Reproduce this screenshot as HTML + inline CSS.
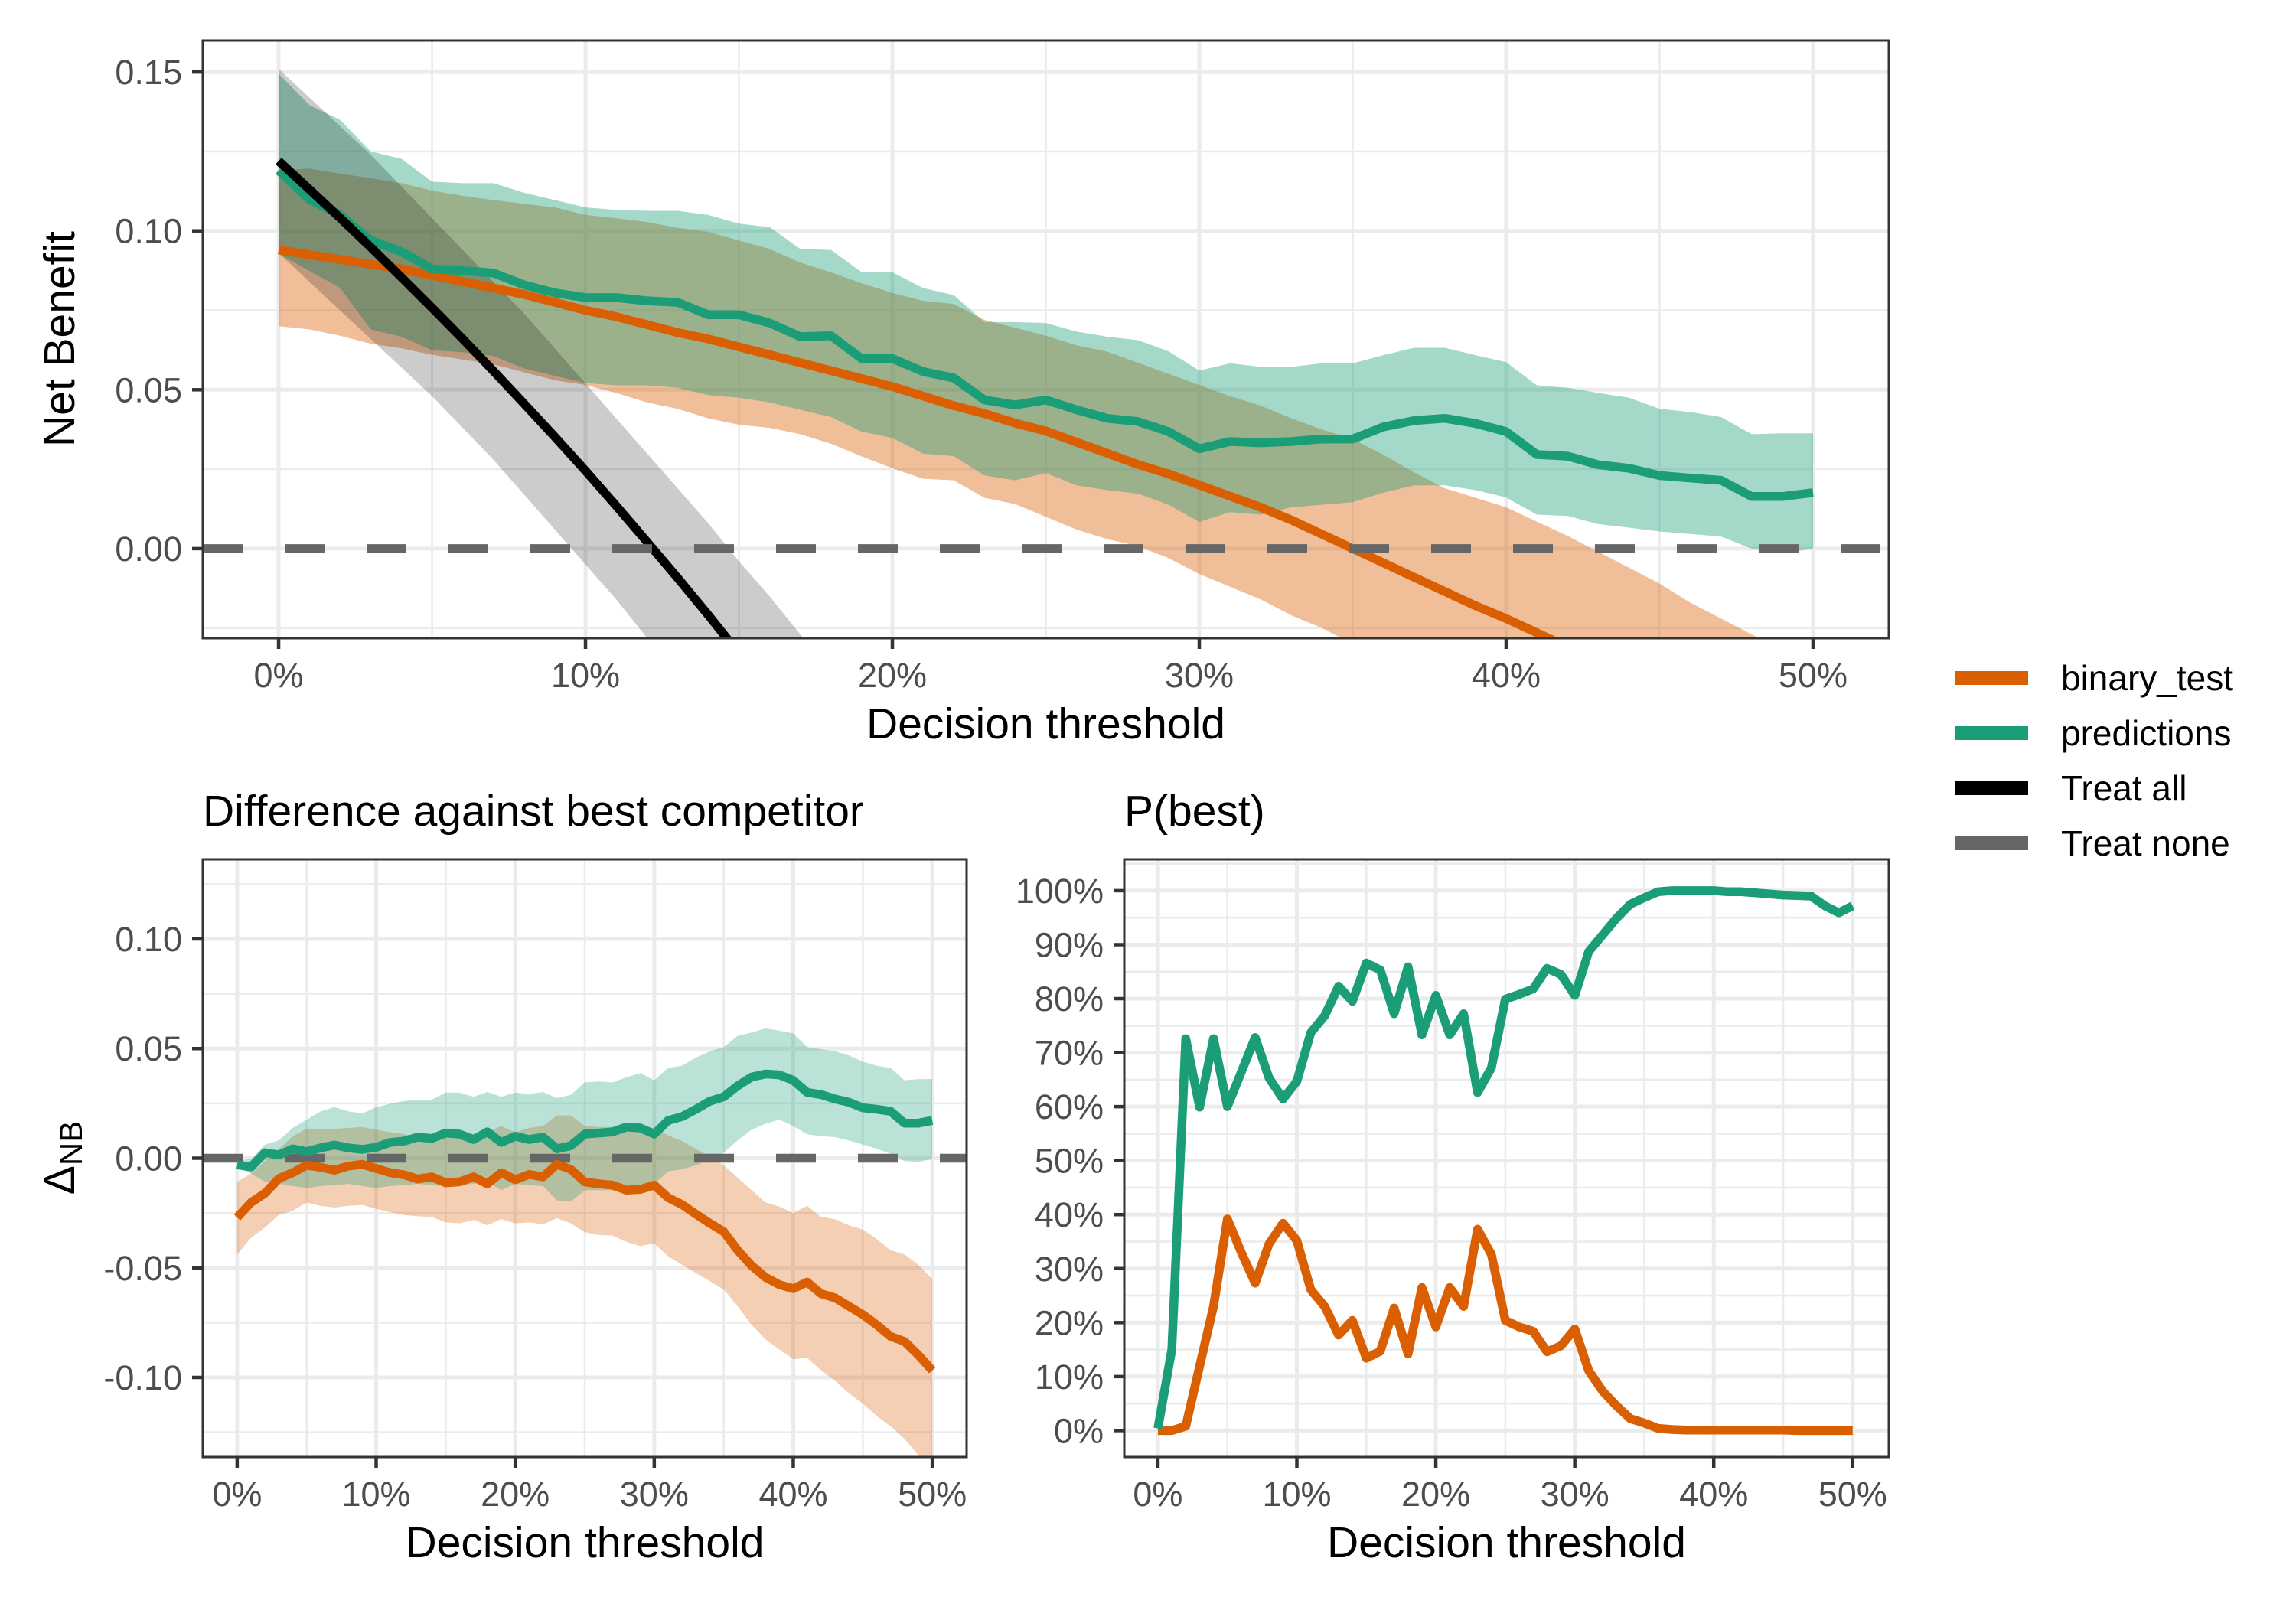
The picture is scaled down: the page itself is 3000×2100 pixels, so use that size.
<!DOCTYPE html>
<html><head><meta charset="utf-8"><style>
html,body{margin:0;padding:0;background:#fff;}
svg{display:block;font-family:"Liberation Sans",Arial,sans-serif;}
</style></head><body>
<svg id="chart" width="3000" height="2100" viewBox="0 0 3000 2100" xmlns="http://www.w3.org/2000/svg">
<defs>
<clipPath id="clipTop"><rect x="265" y="53" width="2203" height="781"/></clipPath>
<clipPath id="clipBL"><rect x="265" y="1123" width="998" height="781"/></clipPath>
<clipPath id="clipBR"><rect x="1469" y="1123" width="999" height="781"/></clipPath>
</defs>
<g id="layer"></g>
</svg>
<script>
// thresholds in percent
const thresholds = [0,1,2,3,4,5,6,7,8,9,10,11,12,13,14,15,16,17,18,19,20,21,22,23,24,25,26,27,28,29,30,31,32,33,34,35,36,37,38,39,40,41,42,43,44,45,46,47,48,49,50];
// Top panel: net benefit
const nbBinary = [.094,.0925,.091,.0895,.088,.086,.084,.082,.080,.0775,.075,.073,.0705,.068,.066,.0635,.061,.0585,.056,.0535,.051,.048,.045,.0425,.0395,.037,.0335,.030,.0265,.0235,.020,.0165,.013,.009,.0045,.000,-.0045,-.009,-.0135,-.018,-.022,-.0265,-.031,-.0355,-.04,-.0445,-.049,-.0535,-.058,-.0625,-.067];
const nbBinaryLo = [.070,.069,.067,.0645,.063,.061,.0595,.058,.0555,.053,.0515,.049,.046,.044,.041,.039,.038,.036,.033,.029,.0253,.022,.0215,.016,.014,.010,.006,.003,.0008,-.003,-.008,-.012,-.016,-.021,-.025,-.030,-.034,-.038,-.042,-.046,-.05,-.054,-.058,-.062,-.066,-.07,-.074,-.078,-.082,-.086,-.09];
const nbBinaryHi = [.119,.1196,.118,.1166,.115,.1127,.111,.1097,.1085,.1074,.105,.104,.1028,.101,.0997,.097,.0943,.090,.087,.0835,.0805,.078,.077,.072,.0695,.067,.064,.062,.0585,.055,.0515,.048,.045,.041,.0375,.0345,.0295,.024,.019,.016,.013,.0085,.004,-.001,-.006,-.011,-.017,-.022,-.027,-.032,-.038];
const nbPred = [.119,.110,.105,.097,.0935,.088,.0875,.0867,.083,.0805,.079,.079,.078,.0775,.0736,.0736,.071,.0667,.067,.0598,.0598,.0557,.0537,.0468,.0452,.0468,.0437,.041,.040,.0368,.0314,.0337,.0333,.0337,.0345,.0345,.0383,.0403,.041,.0394,.0368,.0296,.0291,.0264,.0253,.023,.0222,.0215,.0164,.0164,.0176];
const nbPredLo = [.0928,.0874,.0821,.069,.0667,.0624,.0618,.0606,.0567,.0544,.0521,.0514,.0514,.0506,.0483,.0475,.046,.0437,.0414,.0368,.0348,.0299,.0291,.023,.0215,.0238,.0199,.0184,.0173,.0138,.0084,.0115,.0107,.013,.0138,.0146,.0176,.0199,.0199,.0184,.0161,.0107,.0103,.0077,.0066,.0054,.0046,.0038,0,-.0015,0];
const nbPredHi = [.1495,.1396,.135,.125,.1227,.1155,.115,.115,.112,.1097,.1074,.1066,.1063,.1063,.105,.1023,.1012,.0943,.094,.087,.087,.082,.0798,.0713,.0713,.071,.0683,.0667,.0656,.0621,.056,.0583,.0572,.0572,.0583,.0583,.0609,.0632,.0632,.0609,.0587,.0514,.0506,.049,.0475,.044,.043,.0414,.036,.0363,.0363];
const allThresholds = [0,1,2,3,4,5,6,7,8,9,10,11,12,13,14,15,16,17,18];
const nbTreatAll = [.122,.1131,.1041,.0949,.0854,.0758,.066,.0559,.0456,.0352,.0245,.0135,.0022,-.0092,-.0209,-.033,-.0455,-.0588,-.0724];
const nbTreatAllLo = [.093,.084,.075,.066,.057,.048,.038,.028,.017,.006,-.005,-.016,-.028,-.040,-.052,-.064,-.076,-.088,-.1];
const nbTreatAllHi = [.151,.142,.133,.124,.114,.104,.094,.084,.074,.063,.052,.041,.030,.019,.008,-.004,-.015,-.027,-.039];
// Bottom-left: difference vs best competitor (units of 0.001)
const dBinaryMilli = [-27,-20.2,-16,-9.3,-6.6,-3.2,-4.2,-5.5,-3.6,-2.8,-4.7,-6.6,-7.6,-9.5,-8.5,-11.2,-10.8,-8.5,-11.7,-6.6,-9.8,-7.4,-8.5,-2.8,-5.1,-10.8,-11.7,-12.3,-14.6,-14.2,-12.3,-18,-21.2,-25.5,-29.7,-33.5,-42,-49,-54.3,-57.7,-59.5,-56.5,-61.8,-63.7,-67.5,-71.3,-76,-81.3,-83.6,-89.8,-96.8];
const dBinaryLoMilli = [-43.9,-36.3,-31.6,-25.9,-24,-20.2,-21.7,-22.5,-21.7,-21.4,-23.1,-24.6,-25.9,-26.5,-26.8,-29.3,-29.7,-28.2,-30.6,-27.8,-29.7,-29.3,-30.1,-27.4,-29.7,-33.8,-35,-35.3,-38.2,-40.1,-38.8,-44.8,-48.6,-52.4,-56.1,-59.9,-67.5,-76,-82.6,-87.3,-91.7,-91.1,-96.8,-101.5,-107.2,-111.9,-117.6,-122.3,-128,-135.5,-145];
const dBinaryHiMilli = [-10.8,-7,-1.3,4.3,10,13.4,13.4,13.4,13.8,14.2,12.9,11.9,11,10,9.6,10.4,11.9,11,11.9,14.7,11.9,13.8,14.7,19.5,19.5,14.7,14.2,14.2,14.2,13.8,13.8,10.4,7.8,4.3,0.6,-3.2,-8.9,-14.6,-20.2,-22.1,-25,-21.7,-26.8,-27.8,-30.6,-32.5,-36.9,-42,-43.9,-48.6,-55.2];
const dPredMilli = [-3,-4,2.5,1.5,4.3,3,4.7,6,4.7,4,5,7.2,7.8,9.6,9,11.5,11,8.5,12,7.2,10,8.5,9.6,4.3,5.7,11,11.5,12,14.2,13.8,11,17.2,19,22.3,26,28,33,37,38.4,38,35.5,30,29,27,25.5,23,22.3,21.4,16,16,17.2];
const dPredLoMilli = [-4.2,-7,-10.8,-11.7,-12.7,-13.6,-12.7,-12.3,-11.7,-12.7,-13.6,-12.7,-12.3,-11.7,-12.3,-12.7,-12.3,-11.7,-10.8,-14.6,-11.7,-12.3,-12.7,-19.3,-19.8,-14.6,-14.6,-14.6,-14.6,-13.6,-11.7,-6,-5.1,-3.2,-0.4,2.5,8.1,12.9,15.7,17.6,14.7,10.9,10,9.6,8.1,6.2,4.3,2.1,-1.3,-1.7,-0.4];
const dPredHiMilli = [-1.3,-0.4,6.2,8.1,13.8,17.6,21.4,23.3,21.4,20.4,23.3,24.8,26.1,26.7,26.7,29.9,29.9,28,30.2,28,29.9,29.3,30.2,27.4,28.9,34.6,35,34.6,36.9,38.8,35.5,41.2,42.2,45.9,48.8,50.7,55.8,57.3,59.2,58.2,56.9,50.7,49.7,48.8,46.9,44,42.2,41.2,35.5,36.1,36.1];
// Bottom-right: P(best) in percent
const pBestPred = [0.4,15,72.6,59.9,72.6,60,66.4,72.8,65.3,61.4,64.7,73.7,76.8,82.3,79.5,86.6,85.3,77.2,85.9,73.3,80.6,73.3,77.2,62.6,67.2,79.9,80.8,81.8,85.6,84.5,80.6,88.7,91.8,94.9,97.5,98.7,99.8,100,100,100,100,99.8,99.8,99.6,99.4,99.2,99.1,99,97.2,95.9,97.2];
const pBestBinary = [0,0,0.8,11.9,23,39.2,33,27.3,34.6,38.4,35.2,26.1,23,17.7,20.4,13.4,14.7,22.7,14.2,26.5,19.2,26.5,23,37.3,32.6,20.4,19.2,18.4,14.6,15.7,18.8,11.1,7.3,4.6,2.2,1.4,0.4,0.2,0.1,0.1,0.1,0.1,0.1,0.1,0.1,0.1,0,0,0,0,0];
const xTickLabels = ["0%","10%","20%","30%","40%","50%"];
const nbTickLabels = ["0.00","0.05","0.10","0.15"];
const dTickLabels = ["-0.10","-0.05","0.00","0.05","0.10"];
const pTickLabels = ["0%","10%","20%","30%","40%","50%","60%","70%","80%","90%","100%"];

const NS = "http://www.w3.org/2000/svg";
const layer = document.getElementById('layer');
function mk(tag, attrs, parent){ const e=document.createElementNS(NS,tag); for(const k in attrs) e.setAttribute(k,attrs[k]); (parent||layer).appendChild(e); return e; }
const ORANGE="#D95F02", GREEN="#1B9E77";

function panel(p){
  const g = mk('g',{});
  
  
  const sx = v => p.x0 + (v - p.xmin)/(p.xmax-p.xmin)*(p.x1-p.x0);
  const sy = v => p.y1 - (v - p.ymin)/(p.ymax-p.ymin)*(p.y1-p.y0);
  // minor grid
  p.xMinor.forEach(v=>{ const l=mk('line',{x1:sx(v),x2:sx(v),y1:p.y0,y2:p.y1,stroke:"#EBEBEB","stroke-width":2.6},g);   });
  p.yMinor.forEach(v=>{ const l=mk('line',{x1:p.x0,x2:p.x1,y1:sy(v),y2:sy(v),stroke:"#EBEBEB","stroke-width":2.6},g);   });
  p.xMajor.forEach(v=>{ const l=mk('line',{x1:sx(v),x2:sx(v),y1:p.y0,y2:p.y1,stroke:"#EBEBEB","stroke-width":5},g);   });
  p.yMajor.forEach(v=>{ const l=mk('line',{x1:p.x0,x2:p.x1,y1:sy(v),y2:sy(v),stroke:"#EBEBEB","stroke-width":5},g);   });
  const plot = mk('g',{'clip-path':'url(#'+p.clip+')'},g);
  
  
  // axes ticks & labels
  p.xMajor.forEach((v,i)=>{
    const t=mk('line',{x1:sx(v),x2:sx(v),y1:p.y1,y2:p.y1+14,stroke:"#333","stroke-width":4.5},g);
     
    const tx=mk('text',{x:sx(v),y:p.y1+64,'text-anchor':'middle','font-size':45,fill:"#4D4D4D"},g);
    tx.textContent=p.xLabels[i];
     
  });
  p.yMajor.forEach((v,i)=>{
    const t=mk('line',{x1:p.x0-14,x2:p.x0,y1:sy(v),y2:sy(v),stroke:"#333","stroke-width":4.5},g);
     
    const tx=mk('text',{x:p.x0-27,y:sy(v)+16,'text-anchor':'end','font-size':45,fill:"#4D4D4D"},g);
    tx.textContent=p.yLabels[i];
     
  });
  const xt=mk('text',{x:(p.x0+p.x1)/2,y:p.y1+131,'text-anchor':'middle','font-size':57,fill:"#000"},g);
  xt.textContent="Decision threshold";
   
  return {g, plot, sx, sy, p};
}
function ribbon(P, xs, lo, hi, color, op, name, scale){
  scale = scale||1;
  let d='';
  xs.forEach((x,i)=>{ d += (i?'L':'M')+P.sx(x).toFixed(1)+','+P.sy(hi[i]*scale).toFixed(1); });
  for(let i=xs.length-1;i>=0;i--) d += 'L'+P.sx(xs[i]).toFixed(1)+','+P.sy(lo[i]*scale).toFixed(1);
  const e=mk('path',{d:d+'Z',fill:color,'fill-opacity':op,stroke:'none'},P.plot);
  
  
}
function line(P, xs, ys, color, name, scale, w){
  scale = scale||1;
  const pts = xs.map((x,i)=>P.sx(x).toFixed(1)+','+P.sy(ys[i]*scale).toFixed(1)).join(' ');
  const e=mk('polyline',{points:pts,fill:'none',stroke:color,'stroke-width':w||11.5,'stroke-linejoin':'round','stroke-linecap':'butt'},P.plot);
  
  
}
function zeroLine(P, name){
  const e=mk('line',{x1:P.p.x0,x2:P.p.x1,y1:P.sy(0),y2:P.sy(0),stroke:'#666','stroke-width':11.5,'stroke-dasharray':'52 55'},P.plot);
  
  
}
function border(P){
  const r=mk('rect',{x:P.p.x0,y:P.p.y0,width:P.p.x1-P.p.x0,height:P.p.y1-P.p.y0,fill:'none',stroke:'#333','stroke-width':3},P.g);
   
}

// ---- top panel
const T = panel({name:'net-benefit-panel',clip:'clipTop',x0:265,x1:2468,y0:53,y1:834,
  xmin:-2.47,xmax:52.47,ymin:-0.0282,ymax:0.1599,
  xMajor:[0,10,20,30,40,50],xMinor:[5,15,25,35,45],yMajor:[0,0.05,0.10,0.15],yMinor:[-0.025,0.025,0.075,0.125],
  xLabels:xTickLabels,yLabels:nbTickLabels});
ribbon(T, thresholds, nbBinaryLo, nbBinaryHi, ORANGE, 0.4, 'binary-test-ci-ribbon');
ribbon(T, thresholds, nbPredLo, nbPredHi, GREEN, 0.4, 'predictions-ci-ribbon');
ribbon(T, allThresholds, nbTreatAllLo, nbTreatAllHi, '#000', 0.2, 'treat-all-ci-ribbon');
line(T, thresholds, nbBinary, ORANGE, 'binary-test-line');
line(T, thresholds, nbPred, GREEN, 'predictions-line');
line(T, allThresholds, nbTreatAll, '#000', 'treat-all-line');
zeroLine(T, 'treat-none-line');
border(T);
const yt=mk('text',{x:0,y:0,'text-anchor':'middle','font-size':57,fill:'#000',transform:'translate(97,443) rotate(-90)'});
yt.textContent='Net Benefit';
 

// ---- bottom-left panel
const BL = panel({name:'difference-panel',clip:'clipBL',x0:265,x1:1263,y0:1123,y1:1904,
  xmin:-2.47,xmax:52.47,ymin:-0.1363,ymax:0.1363,
  xMajor:[0,10,20,30,40,50],xMinor:[5,15,25,35,45],yMajor:[-0.10,-0.05,0,0.05,0.10],yMinor:[-0.125,-0.075,-0.025,0.025,0.075,0.125],
  xLabels:xTickLabels,yLabels:dTickLabels});
ribbon(BL, thresholds, dBinaryLoMilli, dBinaryHiMilli, ORANGE, 0.3, 'binary-test-diff-ribbon', 0.001);
ribbon(BL, thresholds, dPredLoMilli, dPredHiMilli, GREEN, 0.3, 'predictions-diff-ribbon', 0.001);
zeroLine(BL, 'diff-zero-line');
line(BL, thresholds, dBinaryMilli, ORANGE, 'binary-test-diff-line', 0.001);
line(BL, thresholds, dPredMilli, GREEN, 'predictions-diff-line', 0.001);
border(BL);
const st1=mk('text',{x:265,y:1079,'font-size':57,fill:'#000'});
st1.textContent='Difference against best competitor';
 
const dt=mk('text',{x:0,y:0,'text-anchor':'middle','font-size':57,fill:'#000',transform:'translate(97,1513) rotate(-90)'});
 
dt.appendChild(document.createTextNode('Δ'));
const sub=mk('tspan',{'font-size':42,dy:10},dt); sub.textContent='NB';

// ---- bottom-right panel
const BR = panel({name:'p-best-panel',clip:'clipBR',x0:1469,x1:2468,y0:1123,y1:1904,
  xmin:-2.42,xmax:52.6,ymin:-4.9,ymax:105.8,
  xMajor:[0,10,20,30,40,50],xMinor:[5,15,25,35,45],yMajor:[0,10,20,30,40,50,60,70,80,90,100],yMinor:[5,15,25,35,45,55,65,75,85,95,105],
  xLabels:xTickLabels,yLabels:pTickLabels});
line(BR, thresholds, pBestBinary, ORANGE, 'binary-test-pbest-line');
line(BR, thresholds, pBestPred, GREEN, 'predictions-pbest-line');
border(BR);
const st2=mk('text',{x:1469,y:1079,'font-size':57,fill:'#000'});
st2.textContent='P(best)';
 

// ---- legend
const legendNames = ['binary_test','predictions','Treat all','Treat none'];
const legendColors = [ORANGE, GREEN, '#000', '#666'];
const lg = mk('g',{});
 
legendNames.forEach((n,i)=>{
  const cy = 886 + i*72;
  const k=mk('line',{x1:2555,x2:2650,y1:cy,y2:cy,stroke:legendColors[i],'stroke-width':18},lg);
   
  const t=mk('text',{x:2693,y:cy+16,'font-size':46,fill:'#000'},lg);
  t.textContent=n;
   
});
</script>
</body></html>
